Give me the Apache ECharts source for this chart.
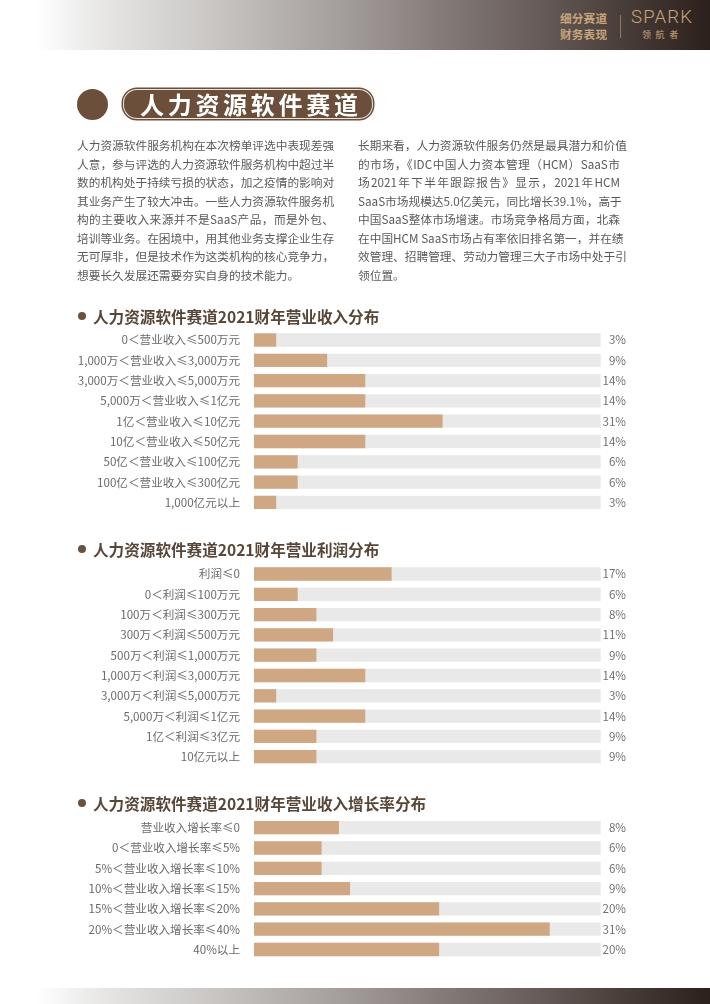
<!DOCTYPE html>
<html>
<head>
<meta charset="utf-8">
<script src="https://cdn.jsdelivr.net/npm/echarts@6/dist/echarts.min.js"></script>
<style>
  html, body { margin: 0; padding: 0; background: #fff; }
  body { width: 710px; height: 1004px; position: relative; overflow: hidden; font-family: "Noto Sans CJK SC", "Noto Sans", sans-serif; }
  #chart { position: absolute; left: 0; top: 0; width: 710px; height: 1004px; }
  .abs { position: absolute; }
  .band { position: absolute; left: 0; width: 710px;
    background: linear-gradient(90deg, #ffffff 5%, #e6e5e4 15%, #c9c6c4 30%, #a6a09e 47%, #857c79 62%, #665b58 76%, #463a36 89%, #2c201c 100%); }
  .col { position: absolute; top: 136.25px; font-size: 11.7px; line-height: 18.5px; color: #5a5a5a; }
  .col div { text-align: justify; text-align-last: justify; white-space: nowrap; }
  .col div.last { text-align-last: left; }
  .sec { position: absolute; left: 78px; height: 20px; line-height: 20px; font-size: 15.6px; font-weight: bold; color: #584739; white-space: nowrap; }
  .sec .dot { position: absolute; left: 0; top: 6px; width: 8px; height: 8px; border-radius: 50%; background: #6a5240; }
  .sec .txt { position: absolute; left: 15px; top: 0; }
</style>
</head>
<body>
<div id="chart"></div>

<!-- header band -->
<div class="band" style="top:0;height:50px;"></div>
<div class="abs" style="left:560px;top:10px;font-size:11.6px;line-height:16px;font-weight:bold;color:#c8a67b;letter-spacing:0.2px;">细分赛道<br>财务表现</div>
<div class="abs" style="left:620px;top:15px;width:1px;height:23px;background:#8d7862;"></div>
<div class="abs" style="left:631px;top:6px;font-family:Roboto, 'Noto Sans', sans-serif;font-weight:300;font-size:18.5px;line-height:22px;color:#c8a67b;letter-spacing:1.2px;">SPARK</div>
<div class="abs" style="left:642px;top:29px;font-size:9px;line-height:12px;color:#c8a67b;letter-spacing:4.6px;">领航者</div>

<!-- title badge -->
<div class="abs" style="left:76.5px;top:88.5px;width:31px;height:31px;border-radius:50%;background:#6b4f3a;"></div>
<div class="abs" style="left:122.7px;top:89.3px;width:248.6px;height:28px;border-radius:14px;background:#6b4f3a;border:1px solid rgba(255,255,255,0.85);box-shadow:0 0 0 1.5px #6b4f3a;box-sizing:content-box;"></div>
<div class="abs" style="left:140px;top:88px;height:32px;line-height:32px;font-size:24px;font-weight:bold;color:#fff;letter-spacing:3.7px;white-space:nowrap;">人力资源软件赛道</div>

<!-- body text -->
<div class="col" style="left:77px;width:257px;">
  <div>人力资源软件服务机构在本次榜单评选中表现差强</div>
  <div>人意，参与评选的人力资源软件服务机构中超过半</div>
  <div>数的机构处于持续亏损的状态，加之疫情的影响对</div>
  <div>其业务产生了较大冲击。一些人力资源软件服务机</div>
  <div>构的主要收入来源并不是SaaS产品，而是外包、</div>
  <div>培训等业务。在困境中，用其他业务支撑企业生存</div>
  <div>无可厚非，但是技术作为这类机构的核心竞争力，</div>
  <div class="last">想要长久发展还需要夯实自身的技术能力。</div>
</div>
<div class="col" style="left:358px;width:262px;">
  <div>长期来看，人力资源软件服务仍然是最具潜力和价值</div>
  <div>的市场，《IDC中国人力资本管理（HCM）SaaS市</div>
  <div>场2021年下半年跟踪报告》显示，2021年HCM</div>
  <div>SaaS市场规模达5.0亿美元，同比增长39.1%，高于</div>
  <div>中国SaaS整体市场增速。市场竞争格局方面，北森</div>
  <div>在中国HCM SaaS市场占有率依旧排名第一，并在绩</div>
  <div>效管理、招聘管理、劳动力管理三大子市场中处于引</div>
  <div class="last">领位置。</div>
</div>

<!-- section titles -->
<div class="sec" style="top:306px;"><span class="dot"></span><span class="txt">人力资源软件赛道2021财年营业收入分布</span></div>
<div class="sec" style="top:538.5px;"><span class="dot"></span><span class="txt">人力资源软件赛道2021财年营业利润分布</span></div>
<div class="sec" style="top:792.7px;"><span class="dot"></span><span class="txt">人力资源软件赛道2021财年营业收入增长率分布</span></div>

<!-- footer band -->
<div class="band" style="top:988px;height:16px;"></div>

<script>
// ---- data ----
const revenueCats = ['0＜营业收入≤500万元', '1,000万＜营业收入≤3,000万元', '3,000万＜营业收入≤5,000万元', '5,000万＜营业收入≤1亿元', '1亿＜营业收入≤10亿元', '10亿＜营业收入≤50亿元', '50亿＜营业收入≤100亿元', '100亿＜营业收入≤300亿元', '1,000亿元以上'];
const revenueShare = [3, 9, 14, 14, 31, 14, 6, 6, 3];
// bar length as drawn, in % of the grey track
const revenueBar = [6.4, 21.1, 32.1, 32.1, 54.4, 32.1, 12.6, 12.6, 6.4];

const profitCats = ['利润≤0', '0＜利润≤100万元', '100万＜利润≤300万元', '300万＜利润≤500万元', '500万＜利润≤1,000万元', '1,000万＜利润≤3,000万元', '3,000万＜利润≤5,000万元', '5,000万＜利润≤1亿元', '1亿＜利润≤3亿元', '10亿元以上'];
const profitShare = [17, 6, 8, 11, 9, 14, 3, 14, 9, 9];
const profitBar = [39.7, 12.6, 18.0, 22.8, 18.0, 32.1, 6.4, 32.1, 18.0, 18.0];

const growthCats = ['营业收入增长率≤0', '0＜营业收入增长率≤5%', '5%＜营业收入增长率≤10%', '10%＜营业收入增长率≤15%', '15%＜营业收入增长率≤20%', '20%＜营业收入增长率≤40%', '40%以上'];
const growthShare = [8, 6, 6, 9, 20, 31, 20];
const growthBar = [24.5, 19.5, 19.5, 27.7, 53.4, 85.3, 53.4];

const trackMax = 100;

// ---- build ----
const ROW = 20.3;
const blocks = [
  { cats: revenueCats, share: revenueShare, bar: revenueBar, top: 329.85 },
  { cats: profitCats, share: profitShare, bar: profitBar, top: 563.85 },
  { cats: growthCats, share: growthShare, bar: growthBar, top: 817.55 }
];
const FONT = '"Noto Sans CJK SC", "Noto Sans", sans-serif';
const grid = [], xAxis = [], yAxis = [], series = [];
blocks.forEach((b, i) => {
  grid.push({ left: 254, right: 109.3, top: b.top, height: b.cats.length * ROW, containLabel: false });
  xAxis.push({ type: 'value', gridIndex: i, min: 0, max: trackMax, show: false });
  yAxis.push({
    type: 'category', gridIndex: i, data: b.cats, inverse: true, position: 'left',
    axisLine: { show: false }, axisTick: { show: false }, splitLine: { show: false },
    axisLabel: { interval: 0, margin: 14, fontSize: 11.6, color: '#6a6a6a', fontFamily: FONT }
  });
  yAxis.push({
    type: 'category', gridIndex: i, data: b.share.map(v => v + '%'), inverse: true, position: 'right',
    axisLine: { show: false }, axisTick: { show: false }, splitLine: { show: false },
    axisLabel: { interval: 0, margin: 25.3, align: 'right', fontSize: 11.6, color: '#707070', fontFamily: FONT }
  });
  series.push({
    type: 'bar', xAxisIndex: i, yAxisIndex: i * 2, data: b.bar,
    barWidth: 13.3, showBackground: true,
    backgroundStyle: { color: '#e9e9e9' },
    itemStyle: { color: '#cfa883' },
    silent: true, animation: false
  });
});

const chart = echarts.init(document.getElementById('chart'), null, { renderer: 'canvas' });
chart.setOption({ animation: false, grid, xAxis, yAxis, series });
</script>
</body>
</html>
